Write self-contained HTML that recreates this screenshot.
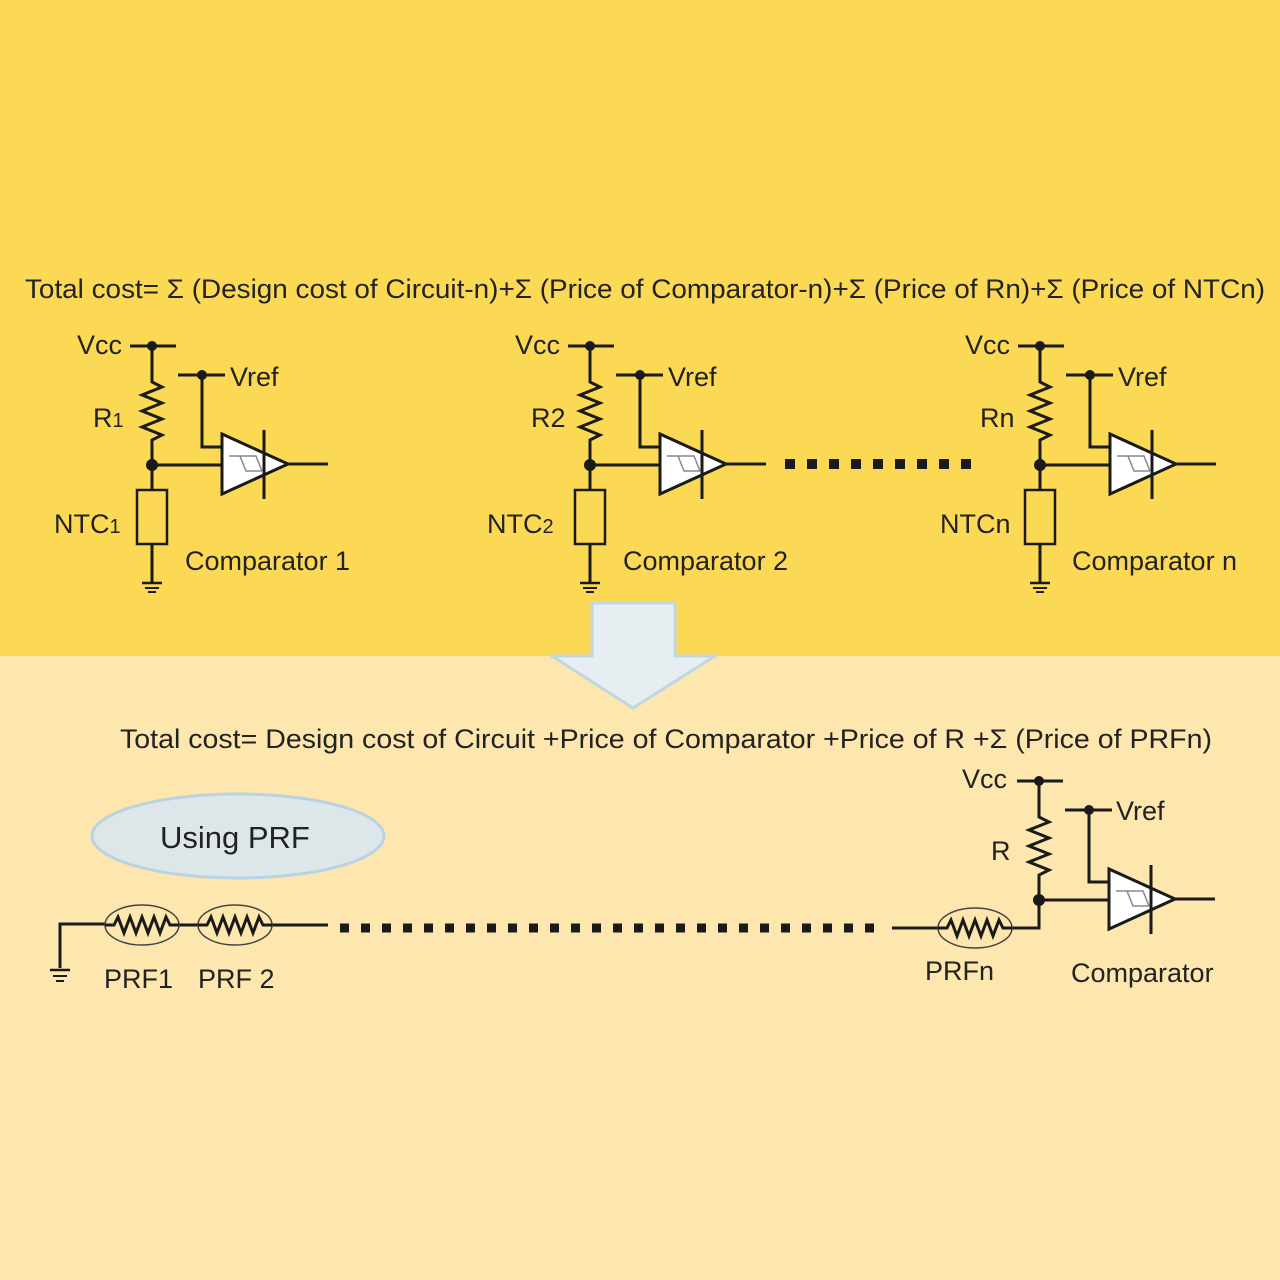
<!DOCTYPE html>
<html><head><meta charset="utf-8"><style>
html,body{margin:0;padding:0;width:1280px;height:1280px;overflow:hidden}
svg{display:block}
text{font-family:"Liberation Sans",sans-serif;fill:#222}
</style></head><body>
<svg width="1280" height="1280" viewBox="0 0 1280 1280" xmlns="http://www.w3.org/2000/svg">
<defs>
<g id="core" stroke="#1a1a1a" stroke-width="3" fill="none">
  <line x1="130" y1="346" x2="176" y2="346"/>
  <polyline points="152,346 152,382 162,387 142,395 162,403 142,411 162,419 142,427 162,435 152,440 152,465"/>
  <line x1="178" y1="375" x2="225" y2="375"/>
  <polyline points="202,375 202,447 222,447"/>
  <line x1="152" y1="465" x2="222" y2="465"/>
  <polygon points="222,434 222,494 288,464" fill="#fff"/>
  <line x1="288" y1="464" x2="328" y2="464"/>
  <line x1="264" y1="430" x2="264" y2="499"/>
  <path d="M229 456 L240 456 L246 471 L262 471 M240 456 L256 456 L262 471" stroke="#888" stroke-width="1.5"/>
  <circle cx="152" cy="346" r="5" fill="#1a1a1a" stroke="none"/>
  <circle cx="202" cy="375" r="5" fill="#1a1a1a" stroke="none"/>
  <circle cx="152" cy="465" r="6" fill="#1a1a1a" stroke="none"/>
</g>
<g id="ntc" stroke="#1a1a1a" stroke-width="3" fill="none">
  <line x1="152" y1="465" x2="152" y2="490"/>
  <rect x="137" y="490" width="30" height="54" stroke-width="2.5"/>
  <line x1="152" y1="544" x2="152" y2="582"/>
  <line x1="142" y1="583" x2="162" y2="583" stroke-width="2.5"/>
  <line x1="145" y1="588" x2="159" y2="588" stroke-width="2"/>
  <line x1="148" y1="592" x2="156" y2="592" stroke-width="2"/>
</g>
<g id="prf" stroke="#1a1a1a" fill="none">
  <ellipse cx="0" cy="0" rx="37" ry="20" stroke="#444" stroke-width="1.5"/>
  <polyline points="-37,0 -28,0 -24,-8 -18,8 -12,-8 -6,8 0,-8 6,8 12,-8 18,8 24,-8 28,0 37,0" stroke-width="3"/>
</g>
</defs>
<rect x="0" y="0" width="1280" height="656" fill="#FCD955"/>
<rect x="0" y="656" width="1280" height="624" fill="#FDE7AE"/>

<text x="25" y="298" font-size="27" textLength="1240" lengthAdjust="spacingAndGlyphs">Total cost= Σ (Design cost of Circuit-n)+Σ (Price of Comparator-n)+Σ (Price of Rn)+Σ (Price of NTCn)</text>

<g font-size="27">
<use href="#core"/><use href="#ntc"/>
<text x="77" y="354">Vcc</text><text x="230" y="386">Vref</text>
<text x="93" y="427">R<tspan font-size="20">1</tspan></text>
<text x="54" y="533">NTC<tspan font-size="20">1</tspan></text>
<text x="185" y="570">Comparator 1</text>

<g transform="translate(438,0)"><use href="#core"/><use href="#ntc"/></g>
<text x="515" y="354">Vcc</text><text x="668" y="386">Vref</text>
<text x="531" y="427">R2</text>
<text x="487" y="533">NTC<tspan font-size="20">2</tspan></text>
<text x="623" y="570">Comparator 2</text>

<g transform="translate(888,0)"><use href="#core"/><use href="#ntc"/></g>
<text x="965" y="354">Vcc</text><text x="1118" y="386">Vref</text>
<text x="980" y="427">Rn</text>
<text x="940" y="533">NTCn</text>
<text x="1072" y="570">Comparator n</text>
</g>
<line x1="785" y1="464" x2="980" y2="464" stroke="#1a1a1a" stroke-width="10" stroke-dasharray="10,12"/>

<polygon points="592,603 675,603 675,656 715,656 633,708 552,656 592,656" fill="#E6EEF2" stroke="#BFD7E3" stroke-width="3"/>

<text x="120" y="748" font-size="27" textLength="1092" lengthAdjust="spacingAndGlyphs">Total cost= Design cost of Circuit +Price of Comparator +Price of R +Σ (Price of PRFn)</text>

<ellipse cx="238" cy="836" rx="146" ry="42" fill="#DDE7EA" stroke="#B9D3E3" stroke-width="3"/>
<text x="160" y="848" font-size="31">Using PRF</text>

<g stroke="#1a1a1a" stroke-width="3" fill="none">
<polyline points="60,968 60,924 105,924"/>
<line x1="50" y1="970" x2="70" y2="970" stroke-width="2.5"/>
<line x1="53" y1="976" x2="67" y2="976" stroke-width="2"/>
<line x1="56" y1="981" x2="64" y2="981" stroke-width="2"/>
<line x1="179" y1="925" x2="198" y2="925"/>
<line x1="272" y1="925" x2="328" y2="925"/>
<line x1="892" y1="928" x2="940" y2="928"/>
<polyline points="1012,928 1039,928 1039,900"/>
</g>
<use href="#prf" transform="translate(142,925)"/>
<use href="#prf" transform="translate(235,925)"/>
<use href="#prf" transform="translate(975,928)"/>
<line x1="340" y1="928" x2="875" y2="928" stroke="#1a1a1a" stroke-width="9" stroke-dasharray="9,12"/>
<g transform="translate(887,435)"><use href="#core"/></g>
<g font-size="27">
<text x="104" y="988">PRF1</text><text x="198" y="988">PRF 2</text>
<text x="925" y="980">PRFn</text>
<text x="1071" y="982">Comparator</text>
<text x="962" y="788">Vcc</text><text x="1116" y="820">Vref</text>
<text x="991" y="860">R</text>
</g>
</svg>
</body></html>
